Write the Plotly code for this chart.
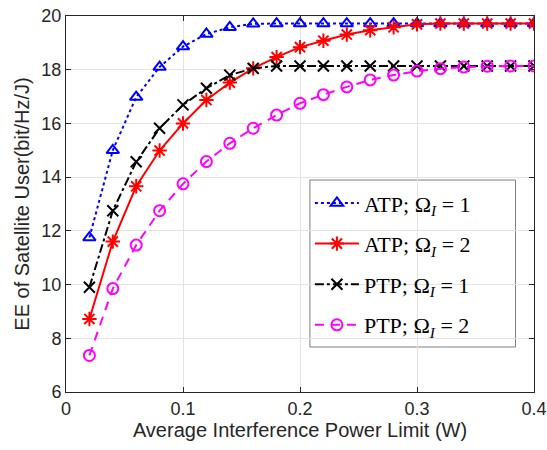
import plotly.graph_objects as go

x_vals = [0.02, 0.04, 0.06, 0.08, 0.10, 0.12, 0.14, 0.16, 0.18, 0.20,
          0.22, 0.24, 0.26, 0.28, 0.30, 0.32, 0.34, 0.36, 0.38, 0.40]

atp_1 = [11.75, 15.0, 16.98, 18.1, 18.86, 19.33, 19.58, 19.71, 19.72, 19.72,
         19.72, 19.72, 19.72, 19.72, 19.72, 19.72, 19.72, 19.72, 19.72, 19.72]
atp_2 = [8.72, 11.6, 13.66, 14.99, 16.0, 16.87, 17.52, 18.05, 18.47, 18.84,
         19.08, 19.31, 19.47, 19.58, 19.69, 19.72, 19.72, 19.72, 19.72, 19.72]
ptp_1 = [9.9, 12.75, 14.57, 15.82, 16.69, 17.31, 17.8, 18.05, 18.14, 18.14,
         18.14, 18.14, 18.14, 18.14, 18.14, 18.14, 18.14, 18.14, 18.14, 18.14]
ptp_2 = [7.36, 9.85, 11.47, 12.75, 13.75, 14.58, 15.26, 15.82, 16.31, 16.75,
         17.07, 17.36, 17.62, 17.8, 17.95, 18.04, 18.1, 18.13, 18.14, 18.14]

names = ["ATP; Ω<sub><i>I</i></sub> = 1", "ATP; Ω<sub><i>I</i></sub> = 2",
         "PTP; Ω<sub><i>I</i></sub> = 1", "PTP; Ω<sub><i>I</i></sub> = 2"]

fig = go.Figure()
fig.add_trace(go.Scatter(x=x_vals, y=atp_1, name=names[0], legendgroup="a1",
                         mode="lines+markers",
                         line=dict(color="#0000ff", width=2, dash="dot"),
                         marker=dict(symbol="triangle-up-open", size=11,
                                     line=dict(color="#0000ff", width=2))))
fig.add_trace(go.Scatter(x=x_vals, y=atp_2, name=names[1], legendgroup="a2",
                         mode="lines+markers",
                         line=dict(color="#ff0000", width=2, dash="solid"),
                         marker=dict(symbol="asterisk-open", size=12, color="#ff0000",
                                     line=dict(color="#ff0000", width=2))))
fig.add_trace(go.Scatter(x=x_vals, y=ptp_1, name=names[2], legendgroup="p1",
                         mode="lines+markers",
                         line=dict(color="#000000", width=2, dash="dashdot"),
                         marker=dict(symbol="x-thin-open", size=11,
                                     line=dict(color="#000000", width=2))))
fig.add_trace(go.Scatter(x=x_vals, y=ptp_2, name=names[3], legendgroup="p2",
                         mode="lines+markers",
                         line=dict(color="#ff00ff", width=2, dash="9px,7px"),
                         marker=dict(symbol="circle-open", size=11,
                                     line=dict(color="#ff00ff", width=2))))

axis_common = dict(
    showline=True, linecolor="#262626", linewidth=1, mirror="ticks",
    ticks="inside", ticklen=5, tickcolor="#262626",
    showgrid=True, gridcolor="#e3e3e3", gridwidth=1, zeroline=False,
    automargin=False, ticklabeloverflow="allow",
    tickfont=dict(family="Liberation Sans, Arial", size=18, color="#262626"),
)

fig.update_xaxes(range=[0, 0.4], tickvals=[0, 0.1, 0.2, 0.3, 0.4],
                 ticktext=["0", "0.1", "0.2", "0.3", "0.4"],
                 title=dict(text="Average Interference Power Limit (W)", standoff=4,
                            font=dict(family="Liberation Sans, Arial", size=20, color="#262626")),
                 **axis_common)
fig.update_yaxes(range=[6, 20], tickvals=[6, 8, 10, 12, 14, 16, 18, 20],
                 title=dict(text="EE of Satellite User(bit/Hz/J)", standoff=6,
                            font=dict(family="Liberation Sans, Arial", size=20, color="#262626")),
                 **axis_common)

fig.add_shape(type="rect", xref="paper", yref="paper",
              x0=0.5212, x1=0.9605, y0=0.1197, y1=0.5638,
              fillcolor="white", line=dict(color="#7f7f7f", width=1), layer="between")

fig.update_layout(
    width=547, height=450,
    margin=dict(l=66, r=13, t=16, b=58),
    plot_bgcolor="white", paper_bgcolor="white",
    showlegend=True,
    legend=dict(x=0.5212, y=0.558, xanchor="left", yanchor="top",
                bgcolor="rgba(0,0,0,0)", borderwidth=0,
                font=dict(family="Liberation Serif, Times New Roman", size=22, color="#000000"),
                itemwidth=44, tracegroupgap=9),
)

fig.write_html("out.html", config={"displayModeBar": False},
               post_script="document.body.style.margin='0';document.body.style.overflow='hidden';")
